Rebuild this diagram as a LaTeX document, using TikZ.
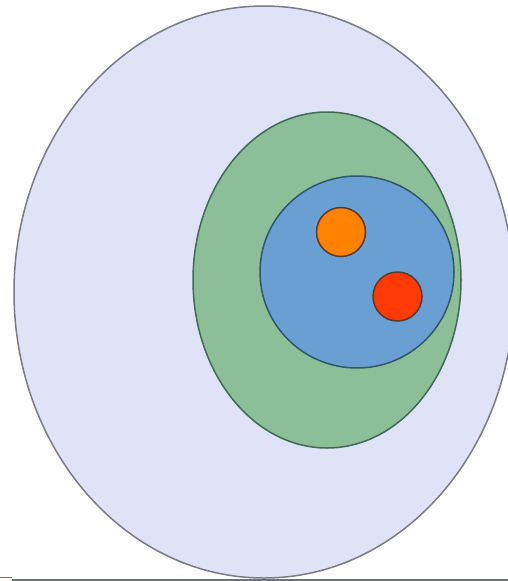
\documentclass[tikz,border=0pt]{standalone}
\usetikzlibrary{shapes.geometric}
\definecolor{lav}{HTML}{E0E3F8}
\definecolor{lavline}{HTML}{7A7B85}
\definecolor{grn}{HTML}{8CBF98}
\definecolor{grnline}{HTML}{3F6A55}
\definecolor{blu}{HTML}{6A9FD4}
\definecolor{bluline}{HTML}{2D5A6A}
\definecolor{org}{HTML}{FF8200}
\definecolor{rd}{HTML}{FF3A05}
\definecolor{dotline}{HTML}{5A3A2A}
\definecolor{barline}{HTML}{6E737A}
\tikzset{
  set/.style={ellipse, inner sep=0pt, line width=1.5pt},
  elem/.style={circle, inner sep=0pt, minimum size=49pt, draw=dotline, line width=1.5pt},
}
\begin{document}
\begin{tikzpicture}[x=1pt,y=-1pt]
\useasboundingbox (0,0) rectangle (508,581);
\fill[white] (0,0) rectangle (508,581);
\begin{scope}
\clip (0,0) rectangle (508,581);
\node[set, fill=lav, draw=lavline, minimum width=500pt, minimum height=572pt] (outer) at (264,292) {};
\end{scope}
\node[set, fill=grn, draw=grnline, minimum width=268pt, minimum height=336pt] (middle) at (327,280) {};
\node[set, fill=blu, draw=bluline, minimum width=194pt, minimum height=192pt] (inner) at (357,272) {};
\node[elem, fill=org] (a) at (341,232) {};
\node[elem, fill=rd] (b) at (397.5,296.5) {};
\draw[barline, line width=2.5pt] (12,580) -- (508,580);
\draw[red!80!white, line width=1.5pt] (0,577.5) -- (12,577.5);
\end{tikzpicture}
\end{document}
